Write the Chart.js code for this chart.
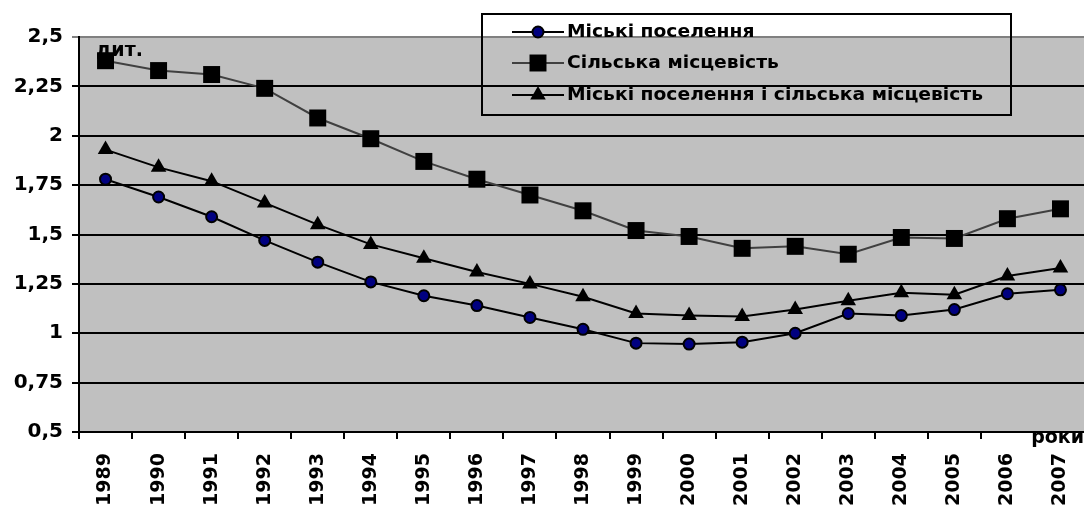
<!DOCTYPE html>
<html>
<head>
<meta charset="utf-8">
<script src="https://cdn.jsdelivr.net/npm/chart.js@4"></script>
<style>
  html, body { margin: 0; padding: 0; background: #fff; overflow: hidden; }
  #wrap { width: 1099px; height: 509px; }
</style>
</head>
<body>
<div id="wrap"><canvas id="chart"></canvas></div>
<script>
const years = ['1989', '1990', '1991', '1992', '1993', '1994', '1995', '1996', '1997', '1998',
  '1999', '2000', '2001', '2002', '2003', '2004', '2005', '2006', '2007'];
const urban = [1.78, 1.69, 1.59, 1.47, 1.36, 1.26, 1.19, 1.14, 1.08, 1.02,
  0.95, 0.945, 0.955, 1.0, 1.1, 1.09, 1.12, 1.2, 1.22];
const rural = [2.38, 2.33, 2.31, 2.24, 2.09, 1.985, 1.87, 1.78, 1.7, 1.62,
  1.52, 1.49, 1.43, 1.44, 1.4, 1.485, 1.48, 1.58, 1.63];
const total = [1.93, 1.84, 1.77, 1.66, 1.55, 1.45, 1.38, 1.31, 1.25, 1.185,
  1.1, 1.09, 1.085, 1.12, 1.165, 1.205, 1.195, 1.29, 1.33];
const seriesNames = ['Міські поселення', 'Сільська місцевість', 'Міські поселення і сільська місцевість'];
const yUnit = 'дит.';
const xUnit = 'роки';

const boldFont = '"DejaVu Sans", sans-serif';

// grey plot background + the unit captions
const plotBg = {
  id: 'plotBg',
  beforeDraw(chart) {
    const { ctx, chartArea: a } = chart;
    ctx.save();
    ctx.fillStyle = '#c0c0c0';
    ctx.fillRect(a.left, a.top, a.right - a.left, a.bottom - a.top);
    ctx.restore();
  },
  afterDraw(chart) {
    const { ctx } = chart;
    ctx.save();
    ctx.fillStyle = '#000';
    ctx.font = 'bold 19px ' + boldFont;
    ctx.textBaseline = 'alphabetic';
    ctx.textAlign = 'left';
    ctx.fillText(yUnit, 96, 56);
    ctx.textAlign = 'right';
    ctx.fillText(xUnit, 1084, 443);
    ctx.restore();
  }
};

// legend box drawn over the plot, like the original
const boxLegend = {
  id: 'boxLegend',
  afterDraw(chart) {
    const { ctx } = chart;
    const x0 = 482, y0 = 14, w = 529, h = 101;
    const rows = [32, 63, 95];
    const cx = 538;
    ctx.save();
    ctx.strokeStyle = '#000';
    ctx.lineWidth = 2;
    ctx.strokeRect(x0, y0, w, h);
    ctx.font = 'bold 17px ' + boldFont;
    // the original lettering is a bit wider than the font, stretch to fit
    const longest = ctx.measureText(seriesNames[2]).width;
    const sx = 416 / longest;
    chart.data.datasets.forEach((ds, i) => {
      const y = rows[i];
      ctx.strokeStyle = ds.borderColor;
      ctx.lineWidth = 2;
      ctx.beginPath();
      ctx.moveTo(512, y);
      ctx.lineTo(564, y);
      ctx.stroke();
      ctx.fillStyle = ds.pointBackgroundColor;
      ctx.strokeStyle = ds.pointBorderColor;
      ctx.lineWidth = ds.pointBorderWidth;
      ctx.beginPath();
      if (ds.pointStyle === 'circle') {
        ctx.arc(cx, y, ds.pointRadius, 0, Math.PI * 2);
        ctx.fill();
        ctx.stroke();
      } else if (ds.pointStyle === 'rect') {
        const s = Math.SQRT1_2 * ds.pointRadius;
        ctx.rect(cx - s, y - s, 2 * s, 2 * s);
        ctx.fill();
      } else {
        const r = ds.pointRadius;
        ctx.moveTo(cx, y - r);
        ctx.lineTo(cx + r * 0.866, y + r / 2);
        ctx.lineTo(cx - r * 0.866, y + r / 2);
        ctx.closePath();
        ctx.fill();
      }
      ctx.save();
      ctx.translate(567, y + 1);
      ctx.scale(sx, 1);
      ctx.fillStyle = '#000';
      ctx.textAlign = 'left';
      ctx.textBaseline = 'middle';
      ctx.fillText(ds.label, 0, 0);
      ctx.restore();
    });
    ctx.restore();
  }
};

new Chart(document.getElementById('chart'), {
  type: 'line',
  data: {
    labels: years,
    datasets: [
      {
        label: seriesNames[0],
        data: urban,
        borderColor: '#000',
        borderWidth: 2,
        pointStyle: 'circle',
        pointRadius: 5.5,
        pointBackgroundColor: '#000080',
        pointBorderColor: '#000',
        pointBorderWidth: 2
      },
      {
        label: seriesNames[1],
        data: rural,
        borderColor: '#404040',
        borderWidth: 2,
        pointStyle: 'rect',
        pointRadius: 12,
        pointBackgroundColor: '#000',
        pointBorderColor: '#000',
        pointBorderWidth: 0
      },
      {
        label: seriesNames[2],
        data: total,
        borderColor: '#000',
        borderWidth: 2,
        pointStyle: 'triangle',
        pointRadius: 9,
        pointBackgroundColor: '#000',
        pointBorderColor: '#000',
        pointBorderWidth: 0
      }
    ]
  },
  options: {
    responsive: true,
    maintainAspectRatio: false,
    animation: false,
    layout: { padding: { top: 37, right: 0, left: 0, bottom: 0 } },
    plugins: {
      legend: { display: false },
      tooltip: { enabled: false }
    },
    elements: { line: { tension: 0 } },
    scales: {
      x: {
        offset: true,
        afterFit: (scale) => {
          scale.height = 77;
          scale.paddingLeft = 0;
          scale.paddingRight = 0;
        },
        border: { color: '#000', width: 2 },
        grid: {
          offset: true,
          drawOnChartArea: false,
          drawTicks: true,
          tickLength: 7,
          color: '#000',
          lineWidth: 2
        },
        ticks: {
          color: '#000',
          font: { family: boldFont, size: 19, weight: 'bold' },
          minRotation: 90,
          maxRotation: 90,
          padding: 14,
          autoSkip: false
        }
      },
      y: {
        min: 0.5,
        max: 2.5,
        afterFit: (scale) => { scale.width = 79; },
        border: { color: '#000', width: 2 },
        grid: {
          color: (c) => (c.tick && c.tick.value === 2.5 ? '#808080' : '#000'),
          lineWidth: 2,
          drawTicks: true,
          tickLength: 7
        },
        ticks: {
          stepSize: 0.25,
          color: '#000',
          padding: 9,
          font: { family: boldFont, size: 20, weight: 'bold' },
          callback: (v) => String(+v.toFixed(2)).replace('.', ',')
        }
      }
    }
  },
  plugins: [plotBg, boxLegend]
});
</script>
</body>
</html>
